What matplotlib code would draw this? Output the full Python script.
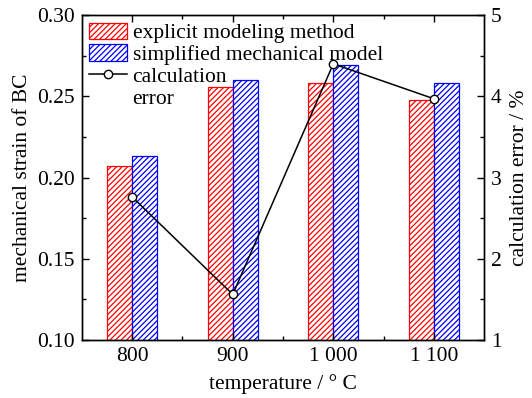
import numpy as np
import matplotlib.pyplot as plt
from matplotlib.lines import Line2D
from matplotlib.ticker import MultipleLocator, FixedLocator

plt.rcParams['font.family'] = ['Liberation Serif', 'DejaVu Serif']
plt.rcParams['font.size'] = 15.5
plt.rcParams['hatch.linewidth'] = 0.9

# data
temps = ['800', '900', '1 000', '1 100']
strain_explicit = [0.207, 0.256, 0.258, 0.248]
strain_simplified = [0.213, 0.260, 0.269, 0.258]
calc_error = [2.76, 1.56, 4.40, 3.97]

x = np.arange(len(temps))
w = 0.25

fig = plt.figure(figsize=(5.32, 3.98), dpi=100)
ax = fig.add_axes([0.154, 0.146, 0.756, 0.816])

b1 = ax.bar(x - w / 2, strain_explicit, w, bottom=0, color='white',
            edgecolor='red', hatch='//////', linewidth=0.9)
b2 = ax.bar(x + w / 2, strain_simplified, w, bottom=0, color='white',
            edgecolor='blue', hatch='//////', linewidth=0.9)

ax.set_xlim(-0.5, 3.5)
ax.set_ylim(0.10, 0.30)
ax.set_xticks(x)
ax.set_xticklabels(temps)
ax.xaxis.set_minor_locator(FixedLocator([0.5, 1.5, 2.5]))
ax.yaxis.set_major_locator(MultipleLocator(0.05))
ax.yaxis.set_minor_locator(MultipleLocator(0.025))
ax.yaxis.set_major_formatter(plt.FormatStrFormatter('%.2f'))
ax.tick_params(which='both', direction='in', top=True, right=False)
ax.tick_params(which='major', length=5, width=1, pad=5)
ax.tick_params(which='minor', length=3, width=1)
ax.set_xlabel('temperature / ° C', labelpad=6)
ax.set_ylabel('mechanical strain of BC', labelpad=4)

ax2 = ax.twinx()
ln, = ax2.plot(x, calc_error, color='black', linewidth=1.1, marker='o',
               markersize=6, markerfacecolor='white', markeredgecolor='black',
               markeredgewidth=1.0)
ax2.set_ylim(1, 5)
ax2.yaxis.set_major_locator(MultipleLocator(1))
ax2.yaxis.set_minor_locator(MultipleLocator(0.5))
ax2.tick_params(which='both', direction='in')
ax2.tick_params(which='major', length=5, width=1, pad=5)
ax2.tick_params(which='minor', length=3, width=1)
ax2.set_ylabel('calculation error / %', labelpad=6)

for a in (ax, ax2):
    for s in a.spines.values():
        s.set_linewidth(1.0)

# second line of the error label sits under an empty handle
blank = Line2D([], [], linestyle='none')
ax.legend([b1, b2, ln, blank],
          ['explicit modeling method', 'simplified mechanical model',
           'calculation', 'error'],
          loc='upper left', frameon=False, borderaxespad=0.15,
          handlelength=1.75, handleheight=0.8, handletextpad=0.25,
          labelspacing=0.05, borderpad=0.2)

fig.savefig('out.png', dpi=100)
